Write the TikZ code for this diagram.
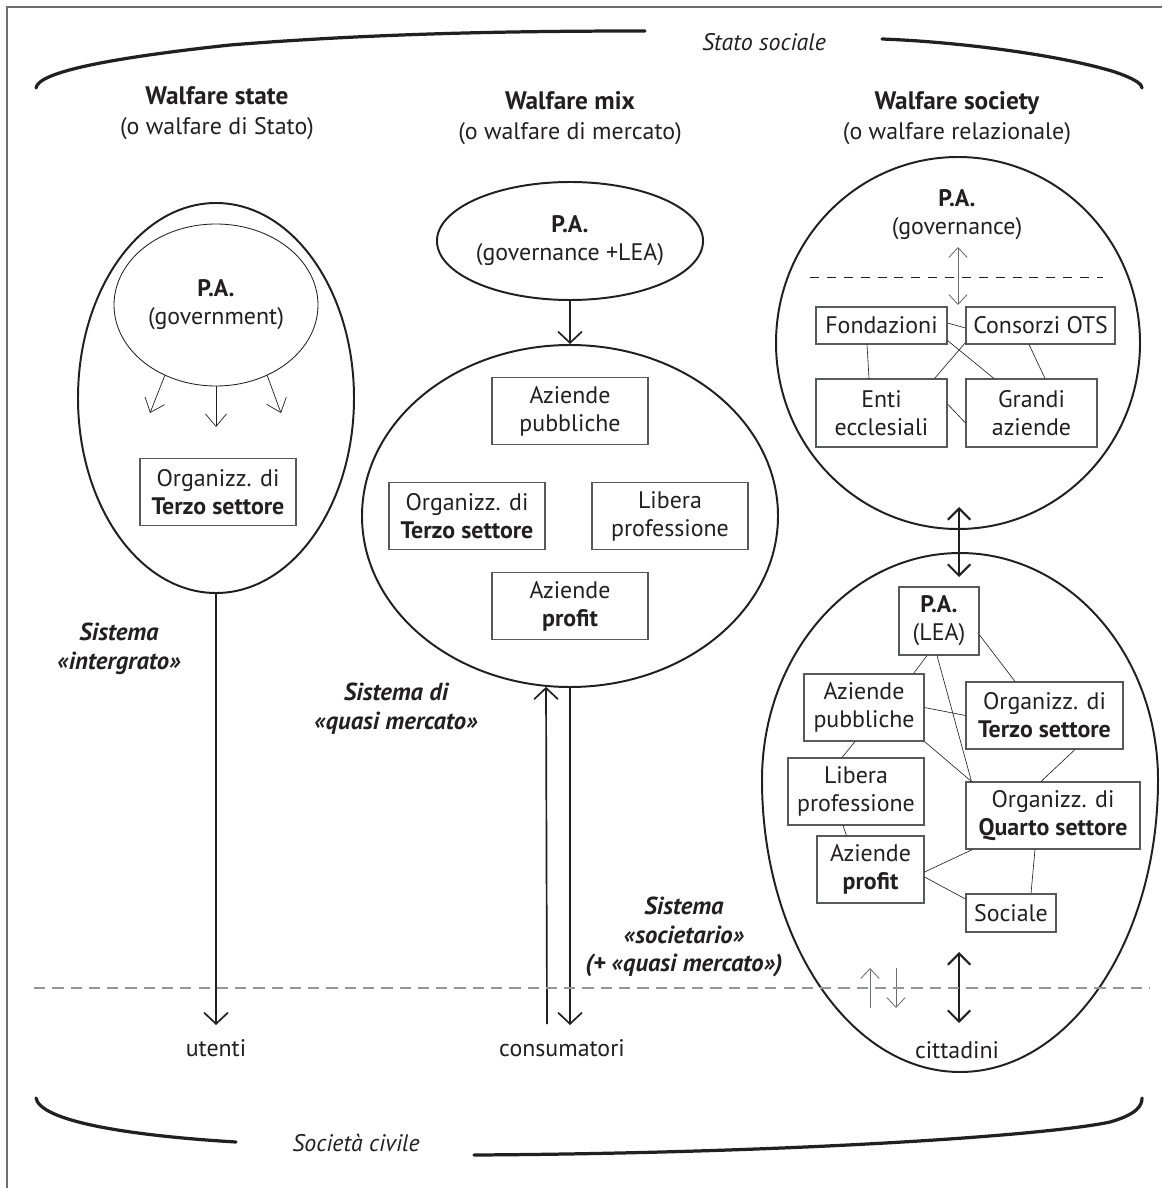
\documentclass[tikz,border=0pt]{standalone}
\usepackage{fontspec}
\setmainfont{PT Sans}
\usetikzlibrary{arrows.meta,calc,shapes.geometric}

\definecolor{ink}{HTML}{231F20}
\definecolor{boxgray}{HTML}{58595B}
\definecolor{framegray}{HTML}{6D6E71}
\definecolor{tipgray}{HTML}{6D6E71}
\definecolor{dashgray}{HTML}{939598}

\newcommand{\txt}{\fontsize{17}{20}\selectfont}

\tikzset{
  sized/.style 2 args={minimum width=#1*0.025cm, minimum height=#2*0.025cm},
  rim/.style={ellipse, draw=ink, line width=1.4pt, inner sep=0pt, align=center},
  tag/.style={draw=boxgray, line width=0.75pt, inner sep=0pt, align=center},
  link/.style={draw=ink, line width=0.45pt},
  brace/.style={draw=ink, line width=2.3pt, line cap=round},
  colhead/.style={align=center, font=\fontsize{17}{21.5}\selectfont},
  sistema/.style={align=center, font=\fontsize{17.5}{20.5}\selectfont\bfseries\itshape},
  bigtip/.style={-{Straight Barb[length=8pt,width=17pt]}, draw=ink, line width=1.2pt},
  twotip/.style={{Straight Barb[length=8pt,width=16pt]}-{Straight Barb[length=8pt,width=16pt]}, draw=ink, line width=1.5pt},
  thintip/.style={-{Straight Barb[length=9pt,width=15pt]}, draw=ink, line width=0.5pt},
  greytip/.style={-{Straight Barb[length=7pt,width=13pt]}, draw=tipgray, line width=0.6pt}
}

\begin{document}
\begin{tikzpicture}[x=0.025cm, y=-0.025cm, font=\txt, text=ink]
  \useasboundingbox (0,0) rectangle (1162,1188);

  % frame, open at the bottom and on the right
  \draw[framegray, line width=0.8pt] (7,1188) -- (7,7) -- (1162,7);

  % Stato sociale
  \draw[brace] (36,88) .. controls (38,72) and (110,58) .. (230,45) .. controls (380,33) and (520,31) .. (645,31);
  \node[font=\txt\itshape] (stato) at (764,42) {Stato sociale};
  \draw[brace] (882,39) .. controls (960,42) and (1060,55) .. (1115,72) .. controls (1138,80) and (1142,85) .. (1142,88);

  % column headings
  \node[colhead] (hws) at (217,113) {\textbf{\fontsize{18}{21.5}\selectfont Walfare state}\\(o walfare di Stato)};
  \node[colhead] (hwm) at (570,118) {\textbf{\fontsize{18}{21.5}\selectfont Walfare mix}\\(o walfare di mercato)};
  \node[colhead] (hwr) at (957,118) {\textbf{\fontsize{18}{21.5}\selectfont Walfare society}\\(o walfare relazionale)};

  % Walfare state
  \node[rim, sized={276}{390}] (ws) at (216,398) {};
  \node[ellipse, draw=ink, line width=0.6pt, inner sep=0pt, align=center, sized={204}{162}] (gov) at (216,305) {\textbf{P.A.}\\(government)};
  \coordinate (g1) at (150,413);
  \coordinate (g2) at (216,427);
  \coordinate (g3) at (281,413);
  \draw[thintip] (gov.234) -- (g1);
  \draw[thintip] (gov.south) -- (g2);
  \draw[thintip] (gov.306) -- (g3);
  \node[tag, sized={156}{67}] (ts1) at (218,492) {Organizz. di\\\textbf{Terzo settore}};
  \coordinate (utip) at (216,1025);
  \draw[bigtip] (ws.south) -- (utip);
  \node (ute) at (216,1048) {utenti};
  \node[sistema] (sint) at (119,649) {Sistema\\«intergrato»};

  % Walfare mix
  \node[rim, sized={256}{118}] (mpa) at (570,241) {\textbf{P.A.}\\(governance +LEA)};
  \node[rim, sized={416}{342}] (mix) at (570,516) {};
  \draw[bigtip] (mpa.south) -- (mix.north);
  \node[tag, sized={156}{67}] (map) at (570,411) {Aziende\\pubbliche};
  \node[tag, sized={156}{67}] (mts) at (467,516) {Organizz. di\\\textbf{Terzo settore}};
  \node[tag, sized={156}{67}] (mlp) at (670,516) {Libera\\professione};
  \node[tag, sized={156}{67}] (mpr) at (570,606) {Aziende\\\textbf{profit}};
  \coordinate (cup) at (547,1024);
  \coordinate (cdn) at (570,1025);
  \draw[bigtip] (cup) -- (mix.262);
  \draw[bigtip] (mix.south) -- (cdn);
  \node (con) at (562,1048) {consumatori};
  \node[sistema] (squa) at (396,709) {Sistema di\\«quasi mercato»};
  \node[sistema] (ssoc) at (684,937) {Sistema\\«societario»\\(+ «quasi mercato»)};

  % Walfare society, upper circle
  \node[rim, sized={364}{372}] (st) at (958,343) {};
  \node[align=center] (spa) at (957,215) {\textbf{P.A.}\\(governance)};
  \draw[ink, line width=0.6pt, dash pattern=on 6.4pt off 5.6pt] (810,277) -- (1103,277);
  \coordinate (gvu) at (958,247);
  \coordinate (gvd) at (958,305);
  \draw[greytip, {Straight Barb[length=7pt,width=13pt]}-{Straight Barb[length=7pt,width=13pt]}] (gvu) -- (gvd);
  \node[tag, sized={131}{37}] (fond) at (881.5,325.5) {Fondazioni};
  \node[tag, sized={149}{37}] (cons) at (1040.5,325.5) {Consorzi OTS};
  \node[tag, sized={131}{68}] (enti) at (881.5,413) {Enti\\ecclesiali};
  \node[tag, sized={131}{68}] (gran) at (1031.5,413) {Grandi\\aziende};
  \draw[link] ($(fond.south)+(-14.5,0)$) -- ($(enti.north)+(-12.5,0)$);
  \draw[link] ($(fond.east)+(0,-2.5)$) -- ($(cons.west)+(0,2.5)$);
  \draw[link] ($(fond.south east)+(0,-4)$) -- ($(gran.north)+(-37.5,0)$);
  \draw[link] ($(cons.south west)+(0,-2)$) -- ($(enti.north east)+(-13,0)$);
  \draw[link] ($(cons.south)+(-11.5,0)$) -- ($(gran.north)+(13.5,0)$);
  \draw[link] ($(enti.east)+(0,-9)$) -- ($(gran.west)+(0,10)$);

  % link between the two circles
  \coordinate (lk1) at (959,507);
  \coordinate (lk2) at (959,577);
  \draw[twotip] (lk1) -- (lk2);

  % Walfare society, lower egg
  \draw[ink, line width=1.4pt] (762,780) arc[start angle=180, end angle=0, x radius=198, y radius=292]
    arc[start angle=0, end angle=-180, x radius=198, y radius=227];
  \node[tag, sized={80}{68}] (pal) at (939,621) {\textbf{P.A.}\\(LEA)};
  \node[tag, sized={120}{67}] (azp) at (864,707.5) {Aziende\\pubbliche};
  \node[tag, sized={157}{67}] (ter) at (1044.5,715.5) {Organizz. di\\\textbf{Terzo settore}};
  \node[tag, sized={136}{67}] (lib) at (856,791.5) {Libera\\professione};
  \node[tag, sized={174}{67}] (qua) at (1053,815.5) {Organizz. di\\\textbf{Quarto settore}};
  \node[tag, sized={107}{67}] (pro) at (870.5,869.5) {Aziende\\\textbf{profit}};
  \node[tag, sized={90}{38}] (soc) at (1011,913) {Sociale};
  \draw[link] ($(pal.south)+(-12,0)$) -- ($(azp.north east)+(-11,0)$);
  \draw[link] ($(pal.east)+(0,14)$) -- ($(ter.north)+(-29.5,0)$);
  \draw[link] ($(pal.south)+(-2,0)$) -- ($(qua.north west)+(6,0)$);
  \draw[link] (azp.east) -- (ter.west);
  \draw[link] (azp.south east) -- ($(qua.north west)+(6,0)$);
  \draw[link] ($(azp.south)+(-9,0)$) -- ($(lib.north)+(-14,0)$);
  \draw[link] ($(ter.south)+(30.5,0)$) -- ($(qua.north)+(-12,0)$);
  \draw[link] ($(lib.south)+(-13,0)$) -- ($(pro.north west)+(30,0)$);
  \draw[link] ($(pro.east)+(0,2.5)$) -- ($(qua.south west)+(7,0)$);
  \draw[link] ($(pro.east)+(0,7.5)$) -- ($(soc.west)+(0,-14)$);
  \draw[link] ($(qua.south)+(-18,0)$) -- ($(soc.north)+(20,0)$);

  % citizens
  \coordinate (ca1) at (959,952);
  \coordinate (ca2) at (959,1023);
  \draw[twotip] (ca1) -- (ca2);
  \coordinate (su1) at (870,1008);
  \coordinate (su2) at (870,968);
  \coordinate (sd1) at (896,968);
  \coordinate (sd2) at (896,1008);
  \draw[greytip] (su1) -- (su2);
  \draw[greytip] (sd1) -- (sd2);
  \node (cit) at (957,1050) {cittadini};

  % boundary of the civil society
  \draw[dashgray, line width=1.2pt, dash pattern=on 8pt off 5pt] (34,988) -- (1150,988);

  % Societa civile
  \draw[brace] (36,1098) .. controls (40,1120) and (120,1135) .. (236,1142);
  \node[font=\txt\itshape] (civ) at (356,1143) {Società civile};
  \draw[brace] (474,1155) .. controls (800,1153) and (1050,1135) .. (1110,1122) .. controls (1138,1114) and (1142,1105) .. (1142,1098);
\end{tikzpicture}
\end{document}
